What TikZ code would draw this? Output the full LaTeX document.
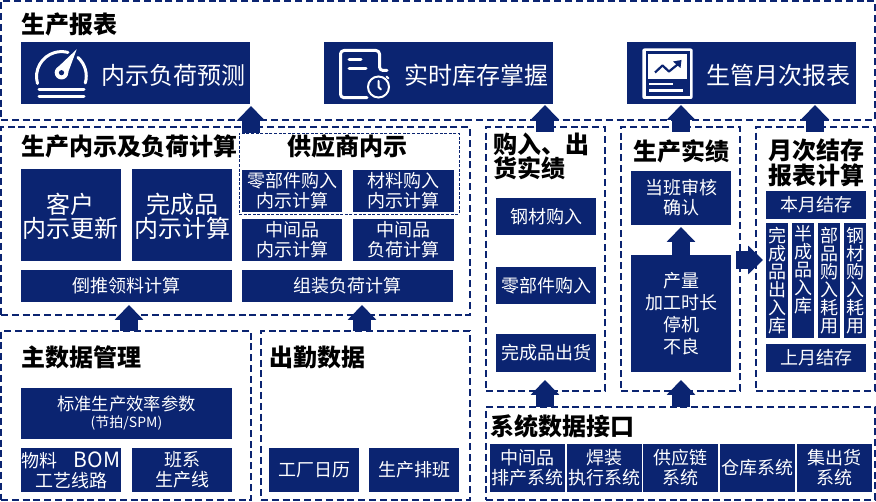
\documentclass[tikz,border=0pt]{standalone}
\usepackage{fontspec}
\setmainfont{Noto Sans CJK SC}
\usetikzlibrary{arrows.meta}
\definecolor{navy}{HTML}{0B2471}
\tikzset{
  panel/.style={draw=navy,line width=1.7pt,dash pattern=on 7pt off 3.8pt,inner sep=0pt,outer sep=0pt},
  thinpanel/.style={draw=navy,line width=0.9pt,dash pattern=on 3pt off 1.6pt,inner sep=0pt,outer sep=0pt},
  navybox/.style={fill=navy,text=white,inner sep=0pt,outer sep=0pt,align=center,font=\fontsize{18}{20}\selectfont},
  bigbox/.style={navybox,font=\fontsize{24}{22}\selectfont},
  columnbox/.style={navybox,minimum width=22pt,minimum height=115pt,font=\fontsize{18}{18}\selectfont},
  wh/.style 2 args={minimum width=#1pt,minimum height=#2pt},
  banner/.style={text=white,inner sep=0pt,font=\fontsize{24}{24}\selectfont},
  heading/.style={text=black,inner sep=0pt,align=left,font=\fontsize{24}{23}\bfseries\selectfont},
  flowarrow/.style={draw=navy,line width=18pt,-{Triangle[length=15pt,width=28pt]}},
  iconline/.style={draw=white,line width=3pt,line cap=round,line join=round},
  thinicon/.style={draw=white,line width=2pt,line cap=round},
}
\begin{document}
\begin{tikzpicture}[x=1pt,y=-1pt]
  \useasboundingbox (0,0) rectangle (876,502);
  % Dashed panels.
  \node[panel,wh={874}{119}] (reports) at (438,60.5) {};
  \node[panel,wh={469}{188}] (calc) at (235.5,221) {};
  \node[panel,wh={250}{169}] (master) at (126,415.5) {};
  \node[panel,wh={209}{169}] (attend) at (365.5,415.5) {};
  \node[panel,wh={119}{264}] (purchase) at (545.5,259) {};
  \node[panel,wh={119}{264}] (actual) at (680.5,259) {};
  \node[panel,wh={119}{264}] (closing) at (815.5,259) {};
  \node[panel,wh={389}{93}] (interface) at (680.5,453.5) {};
  \node[thinpanel,wh={220}{81}] (supplier) at (349,173.5) {};
  % Panel headings.
  \node[heading,anchor=west] (reportshead) at (21,24) {生产报表};
  \node[heading,anchor=west] (calchead) at (21,146.5) {生产内示及负荷计算};
  \node[heading] (supplierhead) at (347,146.5) {供应商内示};
  \node[heading,anchor=north west] (purchasehead) at (493,133) {购入、出\\货实绩};
  \node[heading] (actualhead) at (681,151.5) {生产实绩};
  \node[heading,align=center] (closinghead) at (816,163) {月次结存\\报表计算};
  \node[heading,anchor=west] (masterhead) at (21,357) {主数据管理};
  \node[heading,anchor=west] (attendhead) at (269,357) {出勤数据};
  \node[heading,anchor=west] (interfacehead) at (490,426) {系统数据接口};
  % Report banners.
  \node[navybox,wh={229}{62}] (forecast) at (135.5,73) {};
  \node[navybox,wh={229}{62}] (stock) at (438.5,73) {};
  \node[navybox,wh={229}{62}] (monthly) at (741.5,73) {};
  \node[banner] (forecasttext) at (173,75) {内示负荷预测};
  \node[banner] (stocktext) at (476,75) {实时库存掌握};
  \node[banner] (monthlytext) at (778.5,75) {生管月次报表};
  % Gauge icon.
  \draw[iconline] (37.5,83.5) arc (-196:-75:25);
  \draw[iconline] (78,57.5) arc (-48:16:25);
  \fill[white] (61.5,72.7) circle (6.8);
  \fill[white] (56.5,68.5) -- (76.7,49.3) -- (66.8,76) -- cycle;
  \fill[navy] (61.5,72.7) circle (2.6);
  \draw[iconline] (39,89.5) -- (84,89.5);
  \draw[iconline] (39,97) -- (84,97);
  % Document and clock icon.
  \draw[iconline] (367,97.7) -- (344,97.7) arc (-270:-180:3.5) -- (340.5,54) arc (-180:-90:3.5) -- (376,50.5) arc (-90:0:3.5) -- (379.5,67) arc (-180:-270:3.5) -- (387,70.5);
  \draw[iconline] (349,60) -- (361,60);
  \draw[iconline] (349,69) -- (366,69);
  \draw[thinicon,fill=navy] (378.5,87) circle (10.5);
  \draw[thinicon] (378.5,81) -- (378.5,87) -- (381,89.5);
  \draw[thinicon] (386.5,76.5) -- (388.5,78.5);
  % Chart icon.
  \fill[white,rounded corners=2pt] (642.3,48.5) rectangle (692.7,99);
  \fill[navy] (645.5,51.5) rectangle (689.5,96);
  \fill[white] (648,54) rectangle (687,79);
  \draw[navy,line width=2.2pt,line join=round] (655,72.5) -- (662.5,65.5) -- (669,71.5) -- (680,62.5);
  \fill[navy] (673,61.5) -- (681.5,60) -- (680.5,68) -- cycle;
  \fill[white] (649,83) rectangle (672.5,85.5);
  \fill[white] (649,89.5) rectangle (682.5,92);
  % Demand and load calculation.
  \node[bigbox,wh={100}{92}] (customer) at (71,215) {\rule{0pt}{23pt}客户\\内示更新};
  \node[bigbox,wh={100}{92}] (finished) at (182,215) {\rule{0pt}{23pt}完成品\\内示计算};
  \node[navybox,wh={100}{42}] (parts) at (292,191) {零部件购入\\内示计算};
  \node[navybox,wh={101}{42}] (material) at (403.5,191) {材料购入\\内示计算};
  \node[navybox,wh={100}{42}] (midplan) at (292,240) {中间品\\内示计算};
  \node[navybox,wh={101}{42}] (midload) at (403.5,240) {中间品\\负荷计算};
  \node[navybox,wh={211}{32}] (backflush) at (126.5,286) {倒推领料计算};
  \node[navybox,wh={211}{32}] (assembly) at (347.5,286) {组装负荷计算};
  % Master data.
  \node[navybox,wh={211}{51},font=\fontsize{17.3}{17}\selectfont] (standard) at (126.5,413.5) {标准生产效率参数\\{\fontsize{14}{14}\selectfont (节拍/SPM)}};
  \node[navybox,wh={100}{44}] (routing) at (71,470) {物料\hspace{0.9em}{\fontsize{21}{20}\selectfont BOM}\\工艺线路};
  \node[navybox,wh={100}{44}] (shift) at (182,470) {班系\\生产线};
  \node[navybox,wh={90}{44}] (calendar) at (314,470) {工厂日历};
  \node[navybox,wh={90}{44}] (roster) at (414,470) {生产排班};
  % Purchase and shipment.
  \node[navybox,wh={100}{37}] (steel) at (546,216.5) {钢材购入};
  \node[navybox,wh={100}{37}] (partsin) at (546,285.5) {零部件购入};
  \node[navybox,wh={100}{38}] (shipment) at (546,353) {完成品出货};
  % Production results.
  \node[navybox,wh={100}{54}] (confirm) at (681,198) {当班审核\\确认};
  \node[navybox,wh={100}{117},font=\fontsize{18}{22}\selectfont] (output) at (681,313.5) {产量\\加工时长\\停机\\不良};
  % Monthly closing.
  \node[navybox,wh={100}{28}] (thismonth) at (816,205) {本月结存};
  \node[columnbox] (cfin) at (777,280.5) {完\\成\\品\\出\\入\\库};
  \node[columnbox] (csemi) at (803,280.5) {半\\成\\品\\入\\库\\\strut};
  \node[columnbox] (cparts) at (829,280.5) {部\\品\\购\\入\\耗\\用};
  \node[columnbox] (csteel) at (855,280.5) {钢\\材\\购\\入\\耗\\用};
  \node[navybox,wh={100}{28}] (lastmonth) at (816,358) {上月结存};
  % System interfaces.
  \node[navybox,wh={75}{48}] (sysmid) at (527.5,468) {中间品\\排产系统};
  \node[navybox,wh={75}{48}] (sysweld) at (604.5,468) {焊装\\执行系统};
  \node[navybox,wh={75}{48}] (syschain) at (680.5,468) {供应链\\系统};
  \node[navybox,wh={75}{48}] (sysstore) at (757.5,468) {仓库系统};
  \node[navybox,wh={75}{48}] (sysship) at (834.5,468) {集出货\\系统};
  % Block arrows between the panels.
  \coordinate (calcup) at (251,133);
  \coordinate (calctip) at (251,106);
  \coordinate (purchaseup) at (545,132);
  \coordinate (purchasetip) at (545,105);
  \coordinate (actualup) at (681,132);
  \coordinate (actualtip) at (681,105);
  \coordinate (closingup) at (815,132);
  \coordinate (closingtip) at (815,105);
  \coordinate (masterup) at (129,331);
  \coordinate (mastertip) at (129,305);
  \coordinate (attendup) at (362,331);
  \coordinate (attendtip) at (362,305);
  \coordinate (interfaceleft) at (545,407);
  \coordinate (lefttip) at (545,380);
  \coordinate (interfaceright) at (681,407);
  \coordinate (righttip) at (681,380);
  \coordinate (outputtip) at (681,227);
  \coordinate (closingfrom) at (736,260);
  \coordinate (closingin) at (763,260);
  \draw[flowarrow] (calcup) -- (calctip);
  \draw[flowarrow] (purchaseup) -- (purchasetip);
  \draw[flowarrow] (actualup) -- (actualtip);
  \draw[flowarrow] (closingup) -- (closingtip);
  \draw[flowarrow] (masterup) -- (mastertip);
  \draw[flowarrow] (attendup) -- (attendtip);
  \draw[flowarrow] (interfaceleft) -- (lefttip);
  \draw[flowarrow] (interfaceright) -- (righttip);
  \draw[flowarrow] (output.north) -- (outputtip);
  \draw[flowarrow] (closingfrom) -- (closingin);
\end{tikzpicture}
\end{document}
